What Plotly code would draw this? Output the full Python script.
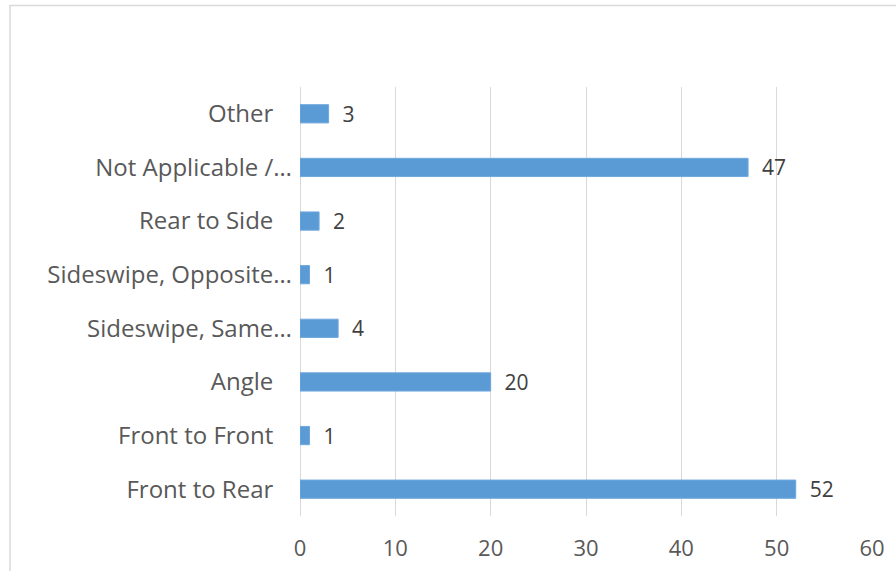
import plotly.graph_objects as go

categories = ["Front to Rear", "Front to Front", "Angle", "Sideswipe, Same…",
              "Sideswipe, Opposite…", "Rear to Side", "Not Applicable /…", "Other"]
values = [52, 1, 20, 4, 1, 2, 47, 3]
x_ticks = [0, 10, 20, 30, 40, 50, 60]

W, H = 896, 571
L, R, T, B = 300, 24, 87, 55
pw, ph = W - L - R, H - T - B

# Excel right-aligns full labels with a gap, truncated ones run closer to the axis
ticktext = [c if c.endswith("…") else c + "\u00a0\u00a0\u00a0" for c in categories]

fig = go.Figure(go.Bar(
    x=values, y=categories, orientation="h",
    marker=dict(color="#5B9BD5", line=dict(color="#6FA8DC", width=1)),
    text=values, texttemplate="\u00a0\u00a0%{x}", textposition="outside",
    constraintext="none",
    textfont=dict(family="Open Sans", size=21, color="#404040"),
    cliponaxis=False,
))

fig.update_layout(
    width=W, height=H,
    margin=dict(l=L, r=R, t=T, b=B, autoexpand=False),
    paper_bgcolor="white", plot_bgcolor="white",
    bargap=0.66, showlegend=False,
    font=dict(family="Open Sans", color="#595959"),
    xaxis=dict(range=[0, 60], tickvals=x_ticks, showgrid=True, gridcolor="#D9D9D9",
               gridwidth=1.3, zeroline=True, zerolinecolor="#D9D9D9", zerolinewidth=1.3,
               showline=False, ticks="", tickfont=dict(size=22, color="#595959"),
               ticklabelstandoff=17, automargin=False),
    yaxis=dict(categoryorder="array", categoryarray=categories,
               tickvals=categories, ticktext=ticktext, automargin=False,
               showgrid=False, zeroline=False, showline=False, ticks="",
               tickfont=dict(size=24, color="#595959"), ticklabelstandoff=7),
    shapes=[dict(type="rect", xref="paper", yref="paper",
                 x0=(10 - L) / pw, x1=(W + 10 - L) / pw,
                 y0=-(B + 10) / ph, y1=(ph + T - 5.5) / ph,
                 line=dict(color="#D9D9D9", width=1.5), fillcolor="rgba(0,0,0,0)", layer="below")],
)

fig.write_html("out.html", config={"displayModeBar": False},
               post_script="document.body.style.margin='0';")
